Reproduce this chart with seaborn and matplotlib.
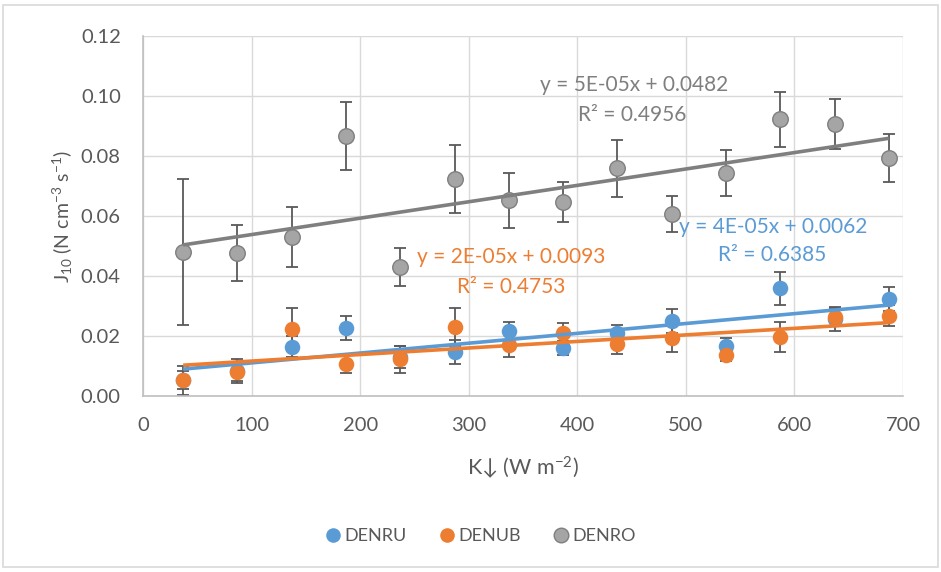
import numpy as np
import pandas as pd
import seaborn as sns
import matplotlib
matplotlib.use("Agg")
import matplotlib.pyplot as plt
from matplotlib.lines import Line2D
from matplotlib.patches import Rectangle

# ---- data ----
x_vals = [37, 87, 137, 187, 237, 287, 337, 387, 437, 487, 537, 587, 637, 687]

denru = [0.0052, 0.0085, 0.0165, 0.0227, 0.0130, 0.0147, 0.0217, 0.0160, 0.0210, 0.0250, 0.0167, 0.0360, 0.0257, 0.0322]
denru_err = [0.0048, 0.0040, 0.0035, 0.0040, 0.0037, 0.0040, 0.0030, 0.0023, 0.0027, 0.0040, 0.0027, 0.0055, 0.0040, 0.0040]

denub = [0.0055, 0.0080, 0.0225, 0.0107, 0.0122, 0.0230, 0.0170, 0.0210, 0.0173, 0.0193, 0.0137, 0.0197, 0.0263, 0.0268]
denub_err = [0.0030, 0.0030, 0.0070, 0.0030, 0.0045, 0.0063, 0.0040, 0.0033, 0.0033, 0.0045, 0.0020, 0.0050, 0.0030, 0.0035]

denro = [0.0480, 0.0477, 0.0530, 0.0867, 0.0430, 0.0723, 0.0653, 0.0647, 0.0760, 0.0607, 0.0743, 0.0922, 0.0907, 0.0792]
denro_err = [0.0243, 0.0092, 0.0100, 0.0112, 0.0062, 0.0112, 0.0092, 0.0068, 0.0095, 0.0060, 0.0077, 0.0092, 0.0083, 0.0080]

series_names = ["DENRU", "DENUB", "DENRO"]
eq_labels = {
    "DENRU": ("y = 4E-05x + 0.0062", "R² = 0.6385"),
    "DENUB": ("y = 2E-05x + 0.0093", "R² = 0.4753"),
    "DENRO": ("y = 5E-05x + 0.0482", "R² = 0.4956"),
}
x_ticks = [0, 100, 200, 300, 400, 500, 600, 700]
y_ticks = [0.00, 0.02, 0.04, 0.06, 0.08, 0.10, 0.12]

# ---- styling ----
sns.set_theme(style="white")
plt.rcParams["font.family"] = ["Lato", "DejaVu Sans"]
plt.rcParams["mathtext.fontset"] = "custom"
plt.rcParams["mathtext.rm"] = "Lato"
plt.rcParams["mathtext.it"] = "Lato"
plt.rcParams["mathtext.default"] = "regular"

TEXT = "#595959"
colors = {"DENRU": "#5B9BD5", "DENUB": "#ED7D31", "DENRO": "#A5A5A5"}
line_colors = {"DENRU": "#5B9BD5", "DENUB": "#ED7D31", "DENRO": "#7F7F7F"}
edge_colors = {"DENRU": "#5B9BD5", "DENUB": "#ED7D31", "DENRO": "#7F7F7F"}

df = pd.DataFrame({
    "x": x_vals * 3,
    "y": denru + denub + denro,
    "err": denru_err + denub_err + denro_err,
    "series": ["DENRU"] * len(x_vals) + ["DENUB"] * len(x_vals) + ["DENRO"] * len(x_vals),
})

fig = plt.figure(figsize=(9.41, 5.72), dpi=100)
ax = fig.add_axes([143 / 941, 1 - 396 / 572, (903 - 143) / 941, (396 - 36) / 572])

for s in series_names:
    sub = df[df.series == s]
    ax.errorbar(sub.x, sub.y, yerr=sub.err, fmt="none", ecolor="#595959",
                elinewidth=1.3, capsize=4.5, capthick=1.3, zorder=2)

for s in series_names:
    sub = df[df.series == s]
    sns.scatterplot(data=sub, x="x", y="y", ax=ax, color=colors[s], s=125,
                    edgecolor=edge_colors[s], linewidth=1.0 if s == "DENRO" else 0,
                    zorder=3, legend=False)

for s in series_names:
    sub = df[df.series == s]
    k, b = np.polyfit(sub.x, sub.y, 1)
    xs = np.array([min(x_vals), max(x_vals)])
    ax.plot(xs, k * xs + b, color=line_colors[s], lw=2.6, zorder=4,
            solid_capstyle="butt")

# equation labels
EQ = 15
ax.text(452, 0.1037, eq_labels["DENRO"][0], color="#7F7F7F", fontsize=EQ, ha="center", va="center", zorder=5)
ax.text(451, 0.0937, eq_labels["DENRO"][1], color="#7F7F7F", fontsize=EQ, ha="center", va="center", zorder=5)
ax.text(339, 0.0463, eq_labels["DENUB"][0], color="#ED7D31", fontsize=EQ, ha="center", va="center", zorder=5)
ax.text(339, 0.0363, eq_labels["DENUB"][1], color="#ED7D31", fontsize=EQ, ha="center", va="center", zorder=5)
ax.text(580, 0.0563, eq_labels["DENRU"][0], color="#5B9BD5", fontsize=EQ, ha="center", va="center", zorder=5)
ax.text(579, 0.0470, eq_labels["DENRU"][1], color="#5B9BD5", fontsize=EQ, ha="center", va="center", zorder=5)

ax.set_xlim(0, 700)
ax.set_ylim(0, 0.12)
ax.set_xticks(x_ticks)
ax.set_yticks(y_ticks)
ax.set_xticklabels([str(t) for t in x_ticks])
ax.set_yticklabels([f"{t:.2f}" for t in y_ticks])
ax.tick_params(axis="both", labelsize=14.5, labelcolor=TEXT, length=0)
ax.tick_params(axis="y", pad=16)
ax.tick_params(axis="x", pad=15)
ax.grid(True, color="#D9D9D9", lw=1.0, zorder=0)
ax.set_axisbelow(True)
for sp in ["top", "right"]:
    ax.spines[sp].set_visible(False)
for sp in ["left", "bottom"]:
    ax.spines[sp].set_color("#BFBFBF")
    ax.spines[sp].set_linewidth(1.2)

ax.set_xlabel("K↓ (W m$^{-2}$)", fontsize=15.5, color=TEXT, labelpad=15)
ax.set_ylabel("J$_{10}$ (N cm$^{-3}$ s$^{-1}$)", fontsize=14, color=TEXT, labelpad=4)

handles = [Line2D([0], [0], marker="o", ls="none", markersize=10.5,
                  markerfacecolor=colors[s], markeredgecolor=edge_colors[s],
                  markeredgewidth=1.0 if s == "DENRO" else 0) for s in series_names]
leg = fig.legend(handles, series_names, loc="center", bbox_to_anchor=(479 / 941, 1 - 536 / 572),
                 ncol=3, frameon=False, fontsize=13, handletextpad=0.05, columnspacing=1.6,
                 handlelength=1.2)
for t in leg.get_texts():
    t.set_color(TEXT)

fig.patches.append(Rectangle((3 / 941, 5 / 572), 935 / 941, 562 / 572, transform=fig.transFigure,
                             fill=False, edgecolor="#D9D9D9", lw=1.2))

fig.savefig("out.png", dpi=100)
